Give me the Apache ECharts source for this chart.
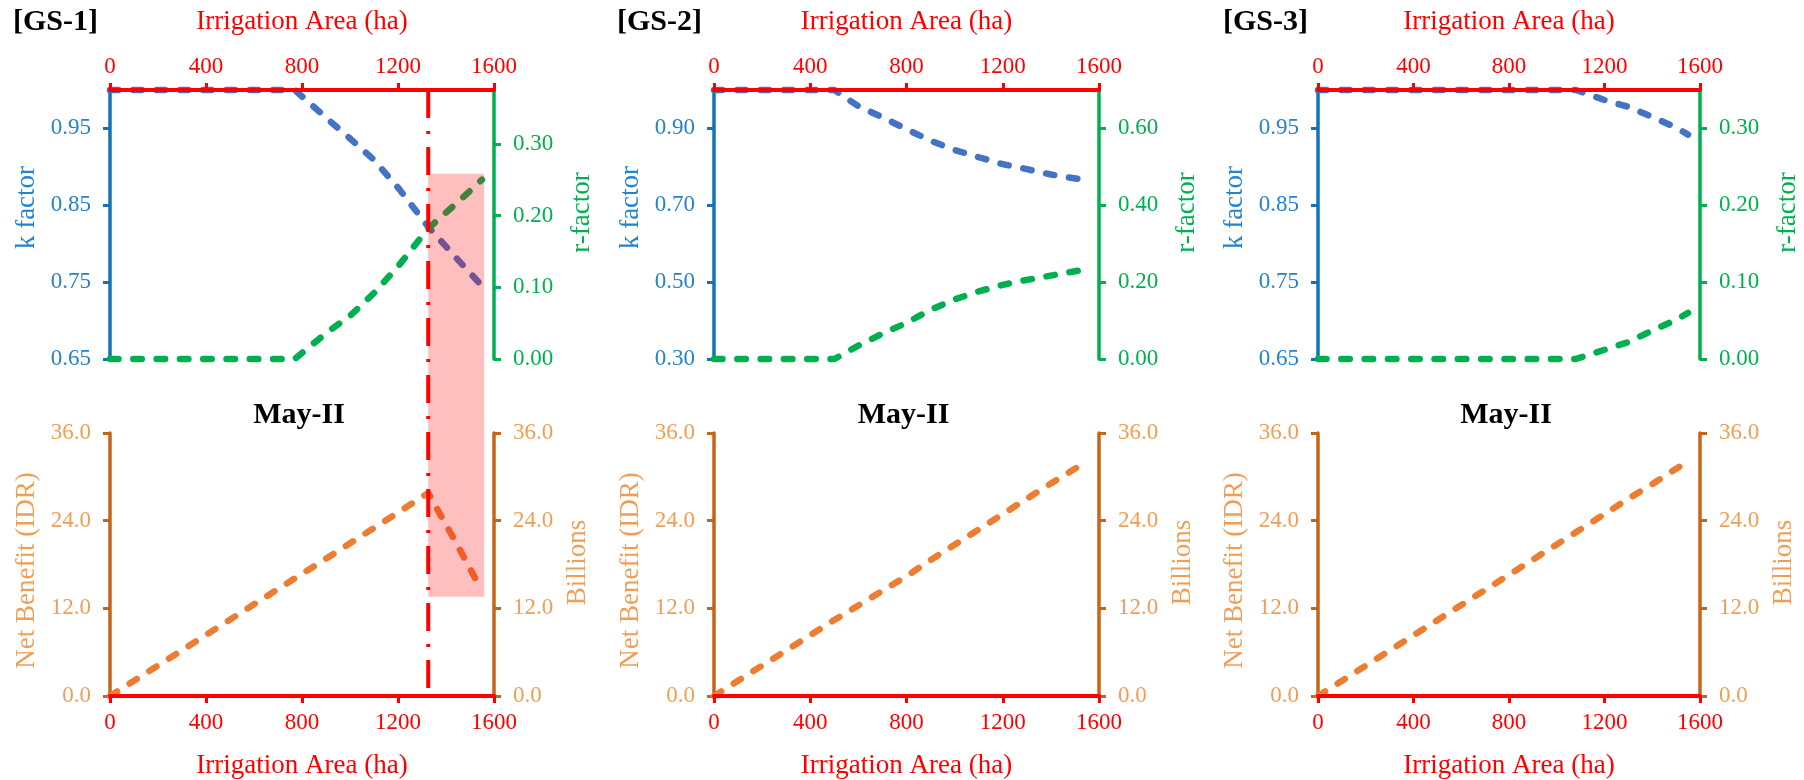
<!DOCTYPE html>
<html><head><meta charset="utf-8">
<script src="https://cdn.jsdelivr.net/npm/echarts@6/dist/echarts.min.js"></script>
<style>html,body{margin:0;padding:0;background:#fff}#c{width:1804px;height:780px}</style>
</head><body><div id="c"></div>
<script>
// ---------- data ----------
const panelLabels = ['[GS-1]', '[GS-2]', '[GS-3]'];
const periodLabel = 'May-II';
const areaTicks = [0, 400, 800, 1200, 1600];

const gs1Area = [0, 770, 900, 1000, 1100, 1200, 1326, 1450, 1550];
const gs1K    = [1.000, 1.000, 0.964, 0.937, 0.909, 0.873, 0.822, 0.779, 0.745];
const gs1R    = [0.000, 0.000, 0.036, 0.060, 0.092, 0.129, 0.182, 0.219, 0.250];
const gs1NB   = [0.0, 16.1, 18.8, 20.9, 23.0, 25.1, 27.8, 20.5, 14.4];

const gs2Area = [0, 500, 600, 700, 800, 900, 1000, 1100, 1200, 1300, 1400, 1550];
const gs2K    = [1.000, 1.000, 0.958, 0.929, 0.898, 0.868, 0.844, 0.825, 0.807, 0.794, 0.780, 0.765];
const gs2R    = [0.000, 0.000, 0.035, 0.066, 0.094, 0.128, 0.155, 0.176, 0.193, 0.206, 0.217, 0.234];
const gs2NB   = [0.0, 10.4, 12.4, 14.4, 16.4, 18.6, 20.7, 22.8, 24.9, 27.0, 29.1, 32.1];

const gs3Area = [0, 1080, 1200, 1300, 1400, 1500, 1550];
const gs3K    = [1.000, 1.000, 0.987, 0.978, 0.965, 0.951, 0.942];
const gs3R    = [0.000, 0.000, 0.012, 0.022, 0.037, 0.051, 0.060];
const gs3NB   = [0.0, 22.4, 24.9, 27.0, 29.0, 31.1, 32.1];

const kRange1 = [0.65, 1.00], kTicks1 = [0.65, 0.75, 0.85, 0.95];
const kRange2 = [0.30, 1.00], kTicks2 = [0.30, 0.50, 0.70, 0.90];
const rRange1 = [0, 0.375],   rTicks1 = [0.00, 0.10, 0.20, 0.30];
const rRange2 = [0, 0.70],    rTicks2 = [0.00, 0.20, 0.40, 0.60];
const rRange3 = [0, 0.35],    rTicks3 = [0.00, 0.10, 0.20, 0.30];
const nbRange = [0, 36],      nbTicks = [0, 12, 24, 36];

// GS-1 optimum marker and shaded zone
const gs1OptimumArea = 1326;
const gs1ShadeArea = [1326, 1559];
const gs1ShadeTopK = 0.891;
const gs1ShadeBottomNB = 13.6;

// ---------- layout / styles ----------
const FONT = '"Liberation Serif", "Times New Roman", serif';
const C = {red:'#FF0000', kLine:'#1373B5', kText:'#2483CC', rLine:'#00B050', rText:'#00B050',
  nbLine:'#C5651A', nbText:'#F19E55', kSer:'#4472C4', rSer:'#00B050', nbSer:'#ED7D31'};
const layout = [{left:110, width:384}, {left:714, width:385}, {left:1318, width:382}];
const TOP = {top:90, height:269}, BOT = {top:433, height:263};

const data = [
  {area:gs1Area, k:gs1K, r:gs1R, nb:gs1NB, kR:kRange1, kT:kTicks1, rR:rRange1, rT:rTicks1},
  {area:gs2Area, k:gs2K, r:gs2R, nb:gs2NB, kR:kRange2, kT:kTicks2, rR:rRange2, rT:rTicks2},
  {area:gs3Area, k:gs3K, r:gs3R, nb:gs3NB, kR:kRange1, kT:kTicks1, rR:rRange3, rT:rTicks3}
];
const zip = (xs, ys) => xs.map((x, i) => [x, ys[i]]);

const grid = [], xAxis = [], yAxis = [], series = [];
function xAx(gi, pos) {
  return {type:'value', gridIndex:gi, position:pos, min:areaTicks[0], max:areaTicks[areaTicks.length-1],
    interval:areaTicks[1]-areaTicks[0], z:3,
    axisLine:{show:true, onZero:false, lineStyle:{color:C.red, width:4}},
    axisTick:{show:true, inside:false, length:7, lineStyle:{color:C.red, width:3}},
    axisLabel:{color:C.red, fontFamily:FONT, fontSize:23, margin: pos==='top'?12:15,
      formatter:v => String(v)},
    splitLine:{show:false},
    name:'Irrigation Area (ha)', nameLocation:'middle', nameGap: pos==='top'?55:56,
    nameTextStyle:{color:C.red, fontFamily:FONT, fontSize:27}};
}
function yAx(gi, pos, range, ticks, digits, lineC, textC, name, namePad, gap) {
  return {type:'value', gridIndex:gi, position:pos, min:range[0], max:range[1],
    axisLine:{show:true, onZero:false, lineStyle:{color:lineC, width:3.5}},
    axisTick:{show:true, inside:false, length:7, customValues:ticks, lineStyle:{color:lineC, width:3}},
    axisLabel:{color:textC, fontFamily:FONT, fontSize:23, margin:19, customValues:ticks,
      formatter:v => Number(v).toFixed(digits)},
    splitLine:{show:false},
    name:name, nameLocation:'middle', nameRotate:90, nameGap:gap,
    nameTextStyle:{color:textC, fontFamily:FONT, fontSize:27, padding:namePad}};
}
function lineSer(xi, yi, pts, color) {
  return {type:'line', xAxisIndex:xi, yAxisIndex:yi, data:pts, showSymbol:false, clip:false,
    silent:true, lineStyle:{color:color, width:6.5, type:[8.5,14.8], cap:'round', join:'round'}, z:2};
}
data.forEach((d, i) => {
  const L = layout[i];
  grid.push({left:L.left, width:L.width, top:TOP.top, height:TOP.height});
  grid.push({left:L.left, width:L.width, top:BOT.top, height:BOT.height});
  xAxis.push(xAx(2*i, 'top'));
  xAxis.push(xAx(2*i+1, 'bottom'));
  yAxis.push(yAx(2*i, 'left', d.kR, d.kT, 2, C.kLine, C.kText, 'k factor', [0,0,0,34], 70));
  yAxis.push(yAx(2*i, 'right', d.rR, d.rT, 2, C.rLine, C.rText, 'r-factor', [0,0,0,24], 74));
  yAxis.push(yAx(2*i+1, 'left', nbRange, nbTicks, 1, C.nbLine, C.nbText, 'Net Benefit (IDR)', [0,12,0,0], 70));
  yAxis.push(yAx(2*i+1, 'right', nbRange, nbTicks, 1, C.nbLine, C.nbText, 'Billions', [0,0,0,4], 70));
  series.push(lineSer(2*i, 4*i, zip(d.area, d.k), C.kSer));
  series.push(lineSer(2*i, 4*i+1, zip(d.area, d.r), C.rSer));
  series.push(lineSer(2*i+1, 4*i+2, zip(d.area, d.nb), C.nbSer));
});

const chart = echarts.init(document.getElementById('c'), null, {renderer:'canvas'});
chart.setOption({animation:false, backgroundColor:'#fff', grid, xAxis, yAxis, series});

// annotations placed through the axes' own scales
const g = [];
const px = (xi, yi, v) => chart.convertToPixel({xAxisIndex:xi, yAxisIndex:yi}, v);
const titleX = [13, 617, 1223];
data.forEach((d, i) => {
  g.push({type:'text', x:titleX[i], y:22, z:30, style:{text:panelLabels[i], fill:'#000', font:'bold 30px ' + FONT, align:'left', verticalAlign:'middle'}});
  const c = px(2*i+1, 4*i+2, [800, 36]);
  g.push({type:'text', x:c[0]-3, y:415, z:30, style:{text:periodLabel, fill:'#000', font:'bold 30px ' + FONT, align:'center', verticalAlign:'middle'}});
});
const lt = px(0, 0, [gs1OptimumArea, kRange1[1]]);
const lb = px(1, 2, [gs1OptimumArea, nbRange[0]]);
g.push({type:'line', z:40, shape:{x1:lt[0], y1:lt[1], x2:lb[0], y2:lb[1]},
  style:{stroke:C.red, lineWidth:4, lineDash:[28,13,3,13]}});
const rt = px(0, 0, [gs1ShadeArea[0], gs1ShadeTopK]);
const rb = px(1, 2, [gs1ShadeArea[1], gs1ShadeBottomNB]);
g.push({type:'rect', z:41, shape:{x:rt[0], y:rt[1], width:rb[0]-rt[0], height:rb[1]-rt[1]},
  style:{fill:'rgba(255,0,0,0.25)'}});
chart.setOption({graphic:g});
</script></body></html>
